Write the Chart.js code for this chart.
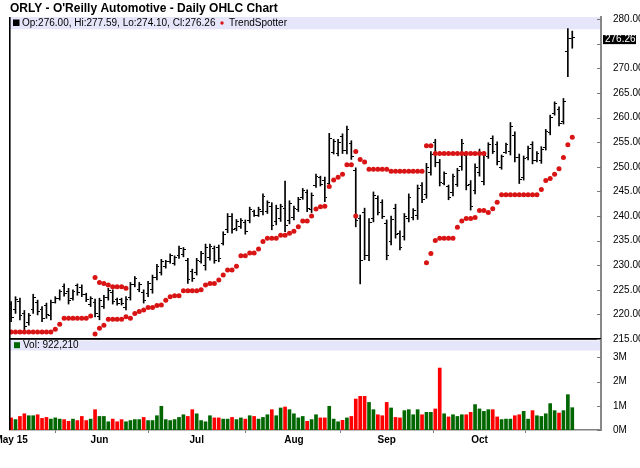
<!DOCTYPE html>
<html>
<head>
<meta charset="utf-8">
<title>ORLY Daily OHLC Chart</title>
<script src="https://cdn.jsdelivr.net/npm/chart.js@4.4.1/dist/chart.umd.min.js"></script>
<style>
  html, body { margin: 0; padding: 0; background: #fff; }
  canvas { display: block; }
</style>
</head>
<body>
<canvas id="ohlcChart" width="640" height="468"></canvas>
<script>
// one entry per trading day, 1 May - 30 Oct 2015 (index = bar number)
const opens = [
  222.0, 220.9, 222.6, 220.1, 218.4, 220.9, 222.4, 221.0, 221.8, 219.8,
  222.5, 223.3, 225.7, 224.7, 223.3, 225.8, 225.5, 224.0, 222.0, 222.4,
  219.6, 221.7, 223.4, 224.4, 223.0, 223.0, 221.4, 223.5, 226.0, 225.0,
  224.5, 224.2, 225.0, 227.6, 228.6, 229.7, 230.8, 230.4, 231.9, 232.1,
  231.0, 228.8, 228.6, 230.8, 230.0, 231.6, 233.4, 233.6, 234.5, 237.2,
  239.9, 237.4, 237.8, 238.7, 239.1, 241.0, 240.2, 240.9, 240.9, 242.0,
  238.8, 239.4, 241.5, 239.1, 239.6, 241.3, 243.7, 244.7, 241.3, 246.2,
  247.8, 247.2, 246.6, 253.0, 252.7, 256.1, 253.4, 254.8, 249.2, 239.5,
  240.8, 232.0, 239.5, 243.6, 242.8, 238.5, 234.8, 241.6, 236.5, 235.8,
  239.5, 239.6, 240.2, 246.2, 244.4, 248.9, 254.9, 250.8, 246.7, 245.9,
  244.7, 246.5, 250.0, 252.3, 246.5, 245.2, 248.8, 247.1, 252.1, 255.8,
  254.5, 249.9, 253.0, 253.2, 256.4, 251.9, 247.9, 251.8, 254.5, 251.3,
  251.2, 253.9, 257.0, 260.8, 261.7, 259.3, 273.4, 276.00
];
const highs = [
  222.6, 223.6, 223.3, 220.8, 220.2, 224.1, 222.9, 221.6, 222.3, 222.9,
  223.6, 225.0, 226.2, 225.3, 225.0, 226.2, 226.0, 224.3, 223.6, 223.1,
  223.3, 223.9, 225.3, 225.0, 223.3, 223.3, 223.6, 226.5, 227.7, 226.5,
  225.0, 226.7, 228.0, 230.2, 231.2, 231.0, 232.3, 231.9, 233.9, 233.6,
  231.4, 229.2, 231.4, 232.8, 234.3, 234.3, 233.9, 234.1, 236.8, 240.5,
  240.5, 239.3, 239.5, 239.2, 241.8, 241.2, 241.8, 244.5, 243.1, 242.7,
  242.2, 242.4, 247.1, 243.1, 242.0, 243.8, 245.6, 245.3, 244.7, 248.5,
  248.1, 247.9, 256.8, 255.6, 255.6, 256.7, 258.3, 255.3, 249.8, 240.2,
  241.6, 239.5, 244.9, 244.1, 243.3, 239.2, 240.0, 242.4, 237.0, 240.5,
  244.5, 241.5, 246.3, 246.8, 250.7, 253.1, 255.6, 251.5, 249.0, 246.3,
  248.5, 249.7, 255.6, 253.1, 247.2, 250.6, 253.6, 253.1, 254.9, 256.3,
  255.1, 252.4, 254.8, 259.0, 257.1, 252.6, 252.2, 254.2, 255.1, 253.1,
  254.1, 257.6, 260.5, 263.2, 262.2, 263.9, 278.1, 277.59
];
const lows = [
  218.5, 220.2, 218.9, 216.8, 217.8, 220.2, 219.9, 218.5, 219.2, 218.9,
  222.3, 222.9, 223.7, 222.1, 222.9, 223.9, 223.6, 222.6, 221.6, 219.5,
  218.9, 221.2, 222.9, 222.1, 221.9, 221.9, 220.9, 222.9, 225.6, 224.6,
  222.3, 223.6, 224.3, 227.0, 228.0, 229.4, 230.4, 230.0, 231.4, 231.7,
  226.3, 226.7, 228.0, 230.4, 229.0, 231.0, 230.4, 230.7, 234.1, 236.6,
  236.5, 237.0, 237.5, 236.3, 238.6, 239.9, 239.9, 240.2, 240.5, 237.2,
  238.2, 238.9, 236.8, 238.4, 239.2, 240.9, 243.4, 240.9, 240.7, 245.8,
  246.1, 242.9, 246.0, 252.6, 252.2, 252.7, 252.6, 251.5, 237.8, 226.2,
  231.1, 230.9, 238.8, 240.2, 239.5, 231.1, 234.1, 235.5, 233.1, 235.1,
  238.8, 239.2, 239.3, 242.7, 243.6, 248.3, 250.0, 246.1, 246.3, 243.3,
  244.1, 246.0, 249.3, 245.3, 241.2, 244.5, 248.1, 246.3, 251.7, 252.7,
  250.4, 249.5, 252.7, 252.4, 251.0, 246.6, 247.3, 251.4, 250.6, 251.0,
  250.7, 253.4, 256.5, 260.5, 258.3, 258.7, 268.3, 274.10
];
const closes = [
  219.4, 223.1, 219.8, 217.6, 219.7, 223.5, 220.6, 219.2, 219.9, 222.4,
  223.3, 224.6, 224.2, 222.8, 224.6, 224.4, 224.1, 223.0, 223.2, 220.2,
  222.8, 223.4, 224.9, 222.7, 222.2, 222.3, 223.1, 226.0, 227.3, 226.1,
  222.9, 226.2, 227.5, 229.7, 230.7, 230.7, 231.9, 231.5, 233.4, 233.2,
  227.0, 227.2, 230.9, 232.4, 233.6, 233.8, 231.0, 231.3, 236.3, 240.0,
  237.2, 238.9, 239.1, 236.8, 241.3, 240.2, 241.4, 243.9, 242.7, 238.0,
  241.6, 241.9, 238.0, 242.5, 241.6, 243.3, 245.2, 241.6, 244.1, 248.1,
  246.5, 243.7, 255.8, 255.1, 255.0, 253.4, 257.5, 252.0, 239.0, 231.0,
  232.0, 238.6, 244.2, 240.8, 240.0, 232.0, 239.2, 236.3, 233.7, 239.8,
  243.8, 241.1, 245.6, 243.3, 249.9, 252.5, 250.8, 246.8, 248.6, 243.8,
  248.0, 249.2, 254.8, 246.2, 242.0, 249.9, 253.0, 252.4, 254.5, 253.2,
  251.0, 252.0, 254.5, 258.2, 251.8, 247.4, 251.6, 253.8, 251.2, 252.8,
  253.6, 257.1, 260.0, 262.8, 258.9, 263.3, 276.1, 276.26
];
// volume, millions of shares
const volumes = [
  0.50, 0.43, 0.56, 0.67, 0.59, 0.59, 0.63, 0.48, 0.52, 0.45,
  0.50, 0.45, 0.43, 0.36, 0.45, 0.39, 0.56, 0.39, 0.45, 0.84,
  0.56, 0.56, 0.34, 0.45, 0.34, 0.43, 0.34, 0.39, 0.43, 0.43,
  0.52, 0.39, 0.39, 0.59, 0.98, 0.43, 0.39, 0.43, 0.52, 0.63,
  0.56, 0.84, 0.67, 0.39, 0.34, 0.59, 0.50, 0.50, 0.45, 0.45,
  0.52, 0.43, 0.50, 0.45, 0.59, 0.56, 0.45, 0.52, 0.63, 0.84,
  0.59, 0.91, 0.95, 0.84, 0.67, 0.50, 0.56, 0.36, 0.43, 0.63,
  0.50, 0.50, 0.98, 0.45, 0.34, 0.40, 0.50, 0.56, 1.28, 1.39,
  1.39, 1.14, 0.84, 0.63, 0.59, 1.14, 0.91, 0.52, 0.50, 0.80,
  0.84, 0.63, 0.84, 0.63, 0.73, 0.73, 0.87, 2.56, 0.67, 0.54,
  0.63, 0.56, 0.63, 0.63, 0.73, 1.05, 0.87, 0.77, 0.84, 0.84,
  0.54, 0.43, 0.45, 0.45, 0.59, 0.63, 0.77, 0.45, 0.80, 0.59,
  0.56, 0.67, 1.09, 0.80, 0.70, 0.80, 1.46, 0.92221
];
// TrendSpotter stops (null = no dot that day)
const trendUpper = [
  null, null, null, null, null, null, null, null, null, null,
  null, null, null, null, null, null, null, null, null, 227.5,
  226.5, 226.3, 226.0, 225.6, 225.6, 225.6, 225.3, null, null, null,
  null, null, null, null, null, null, null, null, null, null,
  null, null, null, null, null, null, null, null, null, null,
  null, null, null, null, null, null, null, null, null, null,
  null, null, null, null, null, null, null, null, null, null,
  null, null, null, null, null, null, null, null, 253.1, 251.5,
  251.0, 249.5, 249.5, 249.5, 249.5, 249.5, 249.1, 249.1, 249.1, 249.1,
  249.1, 249.1, 249.1, 249.1, 254.3, 254.3, 252.7, 252.7, 252.7, 252.7,
  252.7, 252.7, 252.7, 252.7, 252.7, 252.7, 252.7, 252.7, null, null,
  null, null, null, null, null, null, null, null, null, null,
  null, null, null, null, null, null, null, null
];
const trendLower = [
  216.4, 216.4, 216.4, 216.4, 216.4, 216.4, 216.4, 216.4, 216.4, 216.4,
  217.0, 218.0, 219.2, 219.2, 219.2, 219.2, 219.2, 219.2, 219.7, 216.0,
  217.2, 217.8, 219.0, 219.0, 219.0, 219.0, 219.5, 219.2, 220.2, 220.6,
  220.9, 221.4, 221.4, 221.8, 221.9, 222.9, 223.6, 223.8, 223.8, 224.8,
  224.8, 224.8, 224.8, 225.0, 226.0, 226.3, 226.3, 227.0, 228.0, 229.0,
  229.0, 229.8, 231.9, 231.9, 232.5, 232.5, 233.3, 234.8, 235.5, 235.5,
  235.5, 236.1, 236.1, 236.5, 236.9, 237.8, 239.0, 239.0, 240.0, 241.4,
  241.9, 242.0, 246.0, 247.3, 247.9, 248.5, 250.4, 250.4, 240.0, null,
  null, null, null, null, null, null, null, null, null, null,
  null, null, null, null, 230.5, 232.4, 235.0, 235.5, 235.5, 235.5,
  235.5, 237.7, 239.0, 239.5, 239.5, 239.7, 241.1, 241.1, 240.7, 241.5,
  242.8, 244.3, 244.3, 244.3, 244.3, 244.3, 244.3, 244.3, 244.3, 244.3,
  245.4, 247.2, 247.6, 248.5, 249.6, 251.9, 254.5, 256.0
];
// axis ticks
const tickIndex = [0, 20, 42, 64, 85, 106];
const tickLabels = ['May 15', 'Jun', 'Jul', 'Aug', 'Sep', 'Oct'];
const priceTicks = [215, 220, 225, 230, 235, 240, 245, 250, 255, 260, 265, 270, 275, 280];
const volumeTicks = [0, 1, 2, 3];

const FONT = "'Liberation Sans', Arial, sans-serif";
const last = closes.length - 1;
const UP = '#006600', DOWN = '#ff0000';

function points(values) {
    return values.map((v, i) => ({ x: i, y: v })).filter(p => p.y !== null);
}

// little open / close tick drawn as a point image
function tickMark(side) {
    const c = document.createElement('canvas');
    c.width = 5;
    c.height = 1;
    const g = c.getContext('2d');
    g.fillStyle = '#000';
    g.fillRect(side === 'open' ? 0 : 3, 0, 2, 1);
    return c;
}

const panels = {
    id: 'panels',
    beforeDatasetsDraw(chart) {
        const { ctx, chartArea: a, scales } = chart;
        ctx.save();
        ctx.fillStyle = '#e6e6fa';
        ctx.fillRect(a.left, a.top, a.right - a.left - 1, 12.3);
        ctx.fillRect(a.left, scales.y.bottom + 1.5, a.right - a.left - 1, 10);
        ctx.restore();
    },
    afterDraw(chart) {
        const { ctx, chartArea: a, scales } = chart;
        const y = scales.y, yv = scales.yv;
        ctx.save();

        // left frame and panel separator
        ctx.fillStyle = '#000';
        ctx.fillRect(a.left - 1, a.top, 1.6, a.bottom - a.top);
        ctx.fillRect(a.left, y.bottom - 1, a.right - a.left, 1.8);

        // tick marks inside the right axis
        ctx.strokeStyle = '#777';
        ctx.lineWidth = 1;
        [y, yv].forEach(s => s.ticks.forEach(t => {
            const py = Math.round(s.getPixelForValue(t.value)) + 0.5;
            ctx.beginPath();
            ctx.moveTo(a.right - 4, py);
            ctx.lineTo(a.right, py);
            ctx.stroke();
        }));

        // price legend
        ctx.font = '10px ' + FONT;
        ctx.textBaseline = 'middle';
        ctx.textAlign = 'left';
        const ly = a.top + 6;
        ctx.fillStyle = '#000';
        ctx.fillRect(13, ly - 3.5, 6.5, 6.5);
        ctx.fillText('Op:' + opens[last].toFixed(2) + ', Hi:' + highs[last].toFixed(2) +
            ', Lo:' + lows[last].toFixed(2) + ', Cl:' + closes[last].toFixed(2), 22, ly);
        ctx.fillStyle = '#dc1414';
        ctx.beginPath();
        ctx.arc(222, ly, 1.7, 0, Math.PI * 2);
        ctx.fill();
        ctx.fillStyle = '#000';
        ctx.fillText('TrendSpotter', 229, ly);

        // volume legend
        const vy = y.bottom + 6.5;
        ctx.fillStyle = UP;
        ctx.fillRect(14, vy - 3.3, 6, 6);
        ctx.fillStyle = '#000';
        ctx.fillText('Vol: ' + Math.round(volumes[last] * 1e6).toLocaleString('en-US'), 23, vy);

        // last close marker on the price axis
        const pc = y.getPixelForValue(closes[last]);
        ctx.fillStyle = '#000';
        ctx.fillRect(a.right + 2, pc - 2.5, 33, 9);
        ctx.fillStyle = '#fff';
        ctx.fillText(closes[last].toFixed(2), a.right + 4, pc + 2);

        ctx.restore();
    }
};

new Chart(document.getElementById('ohlcChart'), {
    type: 'bar',
    data: {
        datasets: [
            {
                type: 'scatter',
                label: 'TrendSpotter',
                data: points(trendUpper),
                yAxisID: 'y',
                pointStyle: 'circle',
                radius: 2.5,
                backgroundColor: '#d81414',
                borderWidth: 0
            },
            {
                type: 'scatter',
                label: 'TrendSpotter',
                data: points(trendLower),
                yAxisID: 'y',
                pointStyle: 'circle',
                radius: 2.5,
                backgroundColor: '#d81414',
                borderWidth: 0
            },
            {
                type: 'scatter',
                label: 'Open',
                data: points(opens),
                yAxisID: 'y',
                pointStyle: tickMark('open'),
                radius: 1
            },
            {
                type: 'scatter',
                label: 'Close',
                data: points(closes),
                yAxisID: 'y',
                pointStyle: tickMark('close'),
                radius: 1
            },
            {
                label: 'High-Low',
                data: highs.map((h, i) => ({ x: i, y: [lows[i], h] })),
                yAxisID: 'y',
                backgroundColor: '#000',
                barThickness: 1,
                grouped: false
            },
            {
                label: 'Volume',
                data: volumes.map((v, i) => ({ x: i, y: v })),
                yAxisID: 'yv',
                backgroundColor: c => closes[c.dataIndex] >= opens[c.dataIndex] ? UP : DOWN,
                barThickness: 3,
                grouped: false
            }
        ]
    },
    options: {
        responsive: false,
        animation: false,
        events: [],
        layout: { padding: { left: 10, right: 0, top: 0, bottom: 0 } },
        plugins: {
            legend: { display: false },
            tooltip: { enabled: false },
            title: {
                display: true,
                text: "ORLY - O'Reilly Automotive - Daily OHLC Chart",
                align: 'start',
                color: '#000',
                font: { family: FONT, size: 12, weight: 'bold' },
                padding: { top: 1, bottom: 1.6 }
            }
        },
        scales: {
            x: {
                type: 'linear',
                offset: false,
                min: -0.25,
                max: 133.5,
                afterBuildTicks: s => { s.ticks = tickIndex.map(v => ({ value: v })); },
                afterFit: s => { s.height = 38; s.paddingLeft = 0; s.paddingRight = 0; },
                ticks: {
                    autoSkip: false,
                    maxRotation: 0,
                    padding: 1,
                    color: '#000',
                    font: { family: FONT, size: 10, weight: 'bold' },
                    callback: v => tickLabels[tickIndex.indexOf(v)]
                },
                grid: { drawOnChartArea: false, tickLength: 3, color: '#777' },
                border: { color: '#808080', width: 1.5 }
            },
            y: {
                type: 'linear',
                position: 'right',
                stack: 'panels',
                stackWeight: 322,
                min: 215,
                max: 280.45,
                afterBuildTicks: s => { s.ticks = priceTicks.map(v => ({ value: v })); },
                afterFit: s => { s.width = 39; s.paddingTop = 0; s.paddingBottom = 0; },
                grid: { display: false },
                border: { color: '#888', width: 2 },
                ticks: {
                    autoSkip: false,
                    padding: 4,
                    color: '#000',
                    font: { family: FONT, size: 10 },
                    callback: v => Math.abs(v - closes[last]) < 2.5 ? '' : v.toFixed(2)
                }
            },
            yv: {
                type: 'linear',
                position: 'right',
                stack: 'panels',
                stackWeight: 91,
                min: 0,
                max: 3.76,
                afterBuildTicks: s => { s.ticks = volumeTicks.map(v => ({ value: v })); },
                afterFit: s => { s.width = 39; s.paddingTop = 0; s.paddingBottom = 0; },
                grid: { display: false },
                border: { color: '#888', width: 2 },
                ticks: {
                    autoSkip: false,
                    padding: 4,
                    color: '#000',
                    font: { family: FONT, size: 10 },
                    callback: v => v + 'M'
                }
            }
        }
    },
    plugins: [panels]
});
</script>
</body>
</html>
